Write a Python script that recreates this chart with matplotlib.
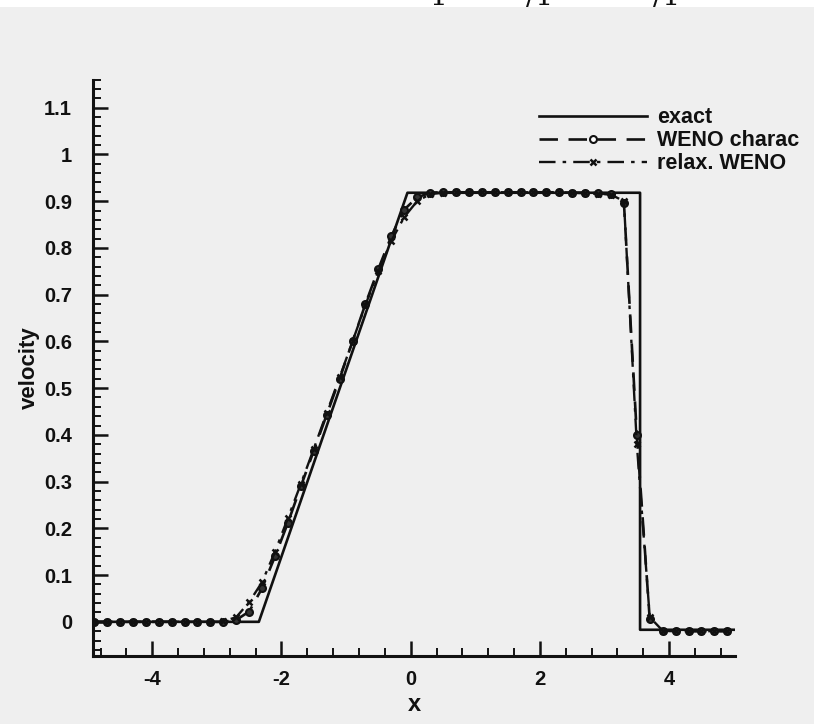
import matplotlib
matplotlib.use("Agg")
import matplotlib.pyplot as plt
from matplotlib.ticker import MultipleLocator

# grid points of the numerical solutions
x = [-4.9, -4.7, -4.5, -4.3, -4.1, -3.9, -3.7, -3.5, -3.3, -3.1,
     -2.9, -2.7, -2.5, -2.3, -2.1, -1.9, -1.7, -1.5, -1.3, -1.1,
     -0.9, -0.7, -0.5, -0.3, -0.1, 0.1, 0.3, 0.5, 0.7, 0.9,
     1.1, 1.3, 1.5, 1.7, 1.9, 2.1, 2.3, 2.5, 2.7, 2.9,
     3.1, 3.3, 3.5, 3.7, 3.9, 4.1, 4.3, 4.5, 4.7, 4.9]

weno_charac = [0.0, 0.0, 0.0, 0.0, 0.0, 0.0, 0.0, 0.0, 0.0, 0.0,
               0.0, 0.004, 0.022, 0.072, 0.14, 0.212, 0.29, 0.366, 0.443, 0.52,
               0.60, 0.68, 0.755, 0.825, 0.882, 0.908, 0.918, 0.919, 0.919, 0.919,
               0.919, 0.919, 0.919, 0.919, 0.919, 0.919, 0.919, 0.918, 0.918, 0.917,
               0.915, 0.897, 0.40, 0.005, -0.019, -0.02, -0.02, -0.02, -0.02, -0.02]

relax_weno = [0.0, 0.0, 0.0, 0.0, 0.0, 0.0, 0.0, 0.0, 0.0, 0.0,
              0.001, 0.01, 0.042, 0.085, 0.15, 0.222, 0.295, 0.37, 0.447, 0.523,
              0.60, 0.678, 0.75, 0.815, 0.866, 0.90, 0.915, 0.918, 0.919, 0.919,
              0.919, 0.919, 0.919, 0.919, 0.919, 0.919, 0.919, 0.918, 0.917, 0.916,
              0.914, 0.90, 0.38, 0.01, -0.019, -0.02, -0.02, -0.02, -0.02, -0.02]

# exact solution: rarefaction + plateau + shock
exact_x = [-5.0, -2.35, -0.05, 3.55, 3.55, 5.0]
exact_u = [0.0, 0.0, 0.918, 0.918, -0.017, -0.017]

x_ticks = [-4, -2, 0, 2, 4]
y_ticks = [0, 0.1, 0.2, 0.3, 0.4, 0.5, 0.6, 0.7, 0.8, 0.9, 1, 1.1]
y_tick_labels = ["0", "0.1", "0.2", "0.3", "0.4", "0.5", "0.6", "0.7", "0.8", "0.9", "1", "1.1"]

plt.rcParams['font.family'] = ['Liberation Sans', 'DejaVu Sans']
plt.rcParams['mathtext.fontset'] = 'cm'
plt.rcParams['axes.unicode_minus'] = False

fig = plt.figure(figsize=(8.14, 7.24), dpi=100, facecolor='#efefef')
ax = fig.add_axes([0.114, 0.094, 0.789, 0.796])
ax.set_facecolor('none')

ink = '#111111'
ax.plot(exact_x, exact_u, color=ink, lw=1.9, label='exact')
ax.plot(x, weno_charac, color=ink, lw=1.9, ls=(0, (7, 4)), marker='o', ms=5,
        mfc='#333333', mec=ink, mew=1.5, label='WENO charac')
ax.plot(x, relax_weno, color=ink, lw=1.7, ls=(0, (7, 3, 1.5, 3)), marker='x', ms=5,
        mec=ink, mew=1.8, label='relax. WENO')

ax.set_xlim(-4.92, 5.02)
ax.set_ylim(-0.073, 1.16)

for side in ['top', 'right']:
    ax.spines[side].set_visible(False)
for side in ['left', 'bottom']:
    ax.spines[side].set_linewidth(2.2)
    ax.spines[side].set_color(ink)

ax.set_xticks(x_ticks)
ax.set_yticks(y_ticks)
ax.set_yticklabels(y_tick_labels)
ax.xaxis.set_minor_locator(MultipleLocator(0.4))
ax.yaxis.set_minor_locator(MultipleLocator(0.02))
ax.tick_params(which='major', direction='in', length=11, width=1.8, color=ink,
               labelsize=14.5, labelcolor=ink)
ax.tick_params(axis='y', which='major', pad=15)
ax.tick_params(axis='x', which='major', pad=10)
ax.tick_params(which='minor', direction='in', length=6, width=1.4, color=ink)
for lab in ax.get_xticklabels() + ax.get_yticklabels():
    lab.set_fontweight('bold')

ax.set_xlabel('x', fontsize=17, fontweight='bold', color=ink, labelpad=3)
ax.set_ylabel('velocity', fontsize=16, fontweight='bold', color=ink, labelpad=3)

leg = ax.legend(loc='upper left', bbox_to_anchor=(0.652, 0.864), bbox_transform=fig.transFigure,
                frameon=False, fontsize=15.5, handlelength=5.0, handletextpad=0.45,
                labelspacing=0.1, numpoints=1, borderaxespad=0)
for t in leg.get_texts():
    t.set_fontweight('bold')
    t.set_color(ink)
# open circle in the legend sample
leg.legend_handles[1].set_markerfacecolor('white')

# strip of the page text cut off at the top of the scan
fig.patches.append(plt.Rectangle((0, 1 - 7 / 724), 1, 7 / 724, transform=fig.transFigure,
                                 facecolor='white', edgecolor='none'))
for fx, s in [(0.528, '1'), (0.646, '/1'), (0.802, '/1')]:
    fig.text(fx, 1 - 5 / 724, s, fontsize=20, family='DejaVu Serif', va='baseline', ha='left', color=ink)

fig.savefig('out.png', dpi=100, facecolor=fig.get_facecolor())
